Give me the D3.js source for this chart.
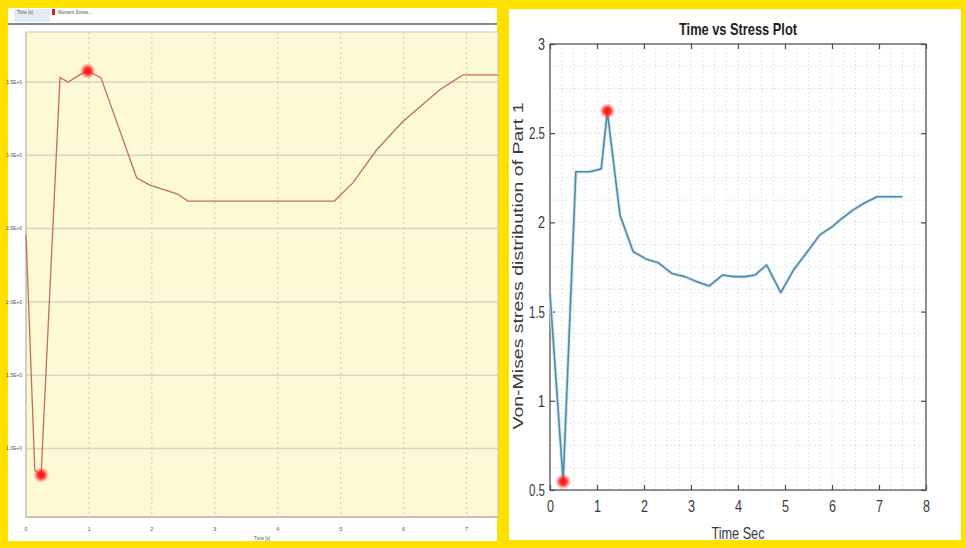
<!DOCTYPE html>
<html>
<head>
<meta charset="utf-8">
<script src="https://cdn.jsdelivr.net/npm/d3@7"></script>
<style>
  body { margin: 0; background: #ffe100; }
  svg { display: block; }
</style>
</head>
<body>
<svg id="chart" width="966" height="548"></svg>
<script>
// Left panel (Workbench style chart) data
const leftTime = [0, 0.14, 0.24, 0.54, 0.67, 0.86, 0.98, 1.19, 1.76, 1.97, 2.41, 2.57, 4.9, 5.19, 5.57, 5.98, 6.57, 6.94, 7.5];
const leftStress = [2.46, 0.85, 0.82, 3.53, 3.5, 3.55, 3.575, 3.53, 2.845, 2.797, 2.736, 2.688, 2.688, 2.81, 3.036, 3.227, 3.445, 3.548, 3.548];
const leftMarkTime = [0.24, 0.98];
const leftMarkStress = [0.82, 3.575];
const leftYTicks = [1.0, 1.5, 2.0, 2.5, 3.0, 3.5];
const leftXTicks = [0, 1, 2, 3, 4, 5, 6, 7];

// Right panel (MATLAB style chart) data
const rightTime = [0, 0.28, 0.55, 0.85, 1.09, 1.22, 1.49, 1.77, 2.06, 2.3, 2.59, 2.87, 3.12, 3.39, 3.67, 3.9, 4.15, 4.36, 4.61, 4.91, 5.18, 5.46, 5.74, 6.0, 6.2, 6.45, 6.7, 6.96, 7.5];
const rightStress = [1.6, 0.547, 2.284, 2.284, 2.3, 2.62, 2.04, 1.836, 1.793, 1.774, 1.714, 1.696, 1.668, 1.644, 1.705, 1.696, 1.696, 1.705, 1.761, 1.606, 1.733, 1.83, 1.93, 1.975, 2.02, 2.07, 2.11, 2.144, 2.144];
const rightMarkTime = [0.28, 1.22];
const rightMarkStress = [0.547, 2.625];
const rightYTicks = [0.5, 1, 1.5, 2, 2.5, 3];
const rightXTicks = [0, 1, 2, 3, 4, 5, 6, 7, 8];

const svg = d3.select("#chart");

// glow for the red markers
const defs = svg.append("defs");
const glow = defs.append("radialGradient").attr("id", "glow");
glow.append("stop").attr("offset", "0%").attr("stop-color", "#ff1010").attr("stop-opacity", 1);
glow.append("stop").attr("offset", "45%").attr("stop-color", "#ff2020").attr("stop-opacity", 0.9);
glow.append("stop").attr("offset", "100%").attr("stop-color", "#ff7070").attr("stop-opacity", 0);

// yellow frame + the two white panels
svg.append("rect").attr("width", 966).attr("height", 548).attr("fill", "#ffe100");
svg.append("rect").attr("x", 8).attr("y", 8).attr("width", 489).attr("height", 533).attr("fill", "#ffffff");
svg.append("rect").attr("x", 509).attr("y", 9).attr("width", 452).attr("height", 531).attr("fill", "#ffffff");

// ---------------- left panel ----------------
const L = { left: 26, right: 498, top: 32, bottom: 517 };
const lx = d3.scaleLinear().domain([0, 7.5]).range([L.left, L.right]);
const ly = d3.scaleLinear().domain([0.533, 3.841]).range([L.bottom, L.top]);

const left = svg.append("g").attr("class", "left-chart");

// toolbar strip
left.append("rect").attr("x", 14).attr("y", 9).attr("width", 36).attr("height", 13).attr("fill", "#e4ecf2");
left.append("text").attr("x", 17).attr("y", 14).attr("font-size", 4.5).attr("fill", "#555")
  .attr("font-family", "Liberation Sans, sans-serif").text("Time [s]");
left.append("rect").attr("x", 52).attr("y", 9).attr("width", 3).attr("height", 6).attr("fill", "#e02020");
left.append("text").attr("x", 58).attr("y", 14).attr("font-size", 4.5).attr("fill", "#555")
  .attr("font-family", "Liberation Sans, sans-serif").text("Moment Stress...");
left.append("line").attr("x1", 8).attr("x2", 497).attr("y1", 24).attr("y2", 24)
  .attr("stroke", "#8a8a8a").attr("stroke-width", 2);

// plot area
left.append("rect").attr("x", L.left).attr("y", L.top)
  .attr("width", L.right - L.left).attr("height", L.bottom - L.top)
  .attr("fill", "#fdf9d4").attr("stroke", "#c8c8c0").attr("stroke-width", 1);

left.append("g").selectAll("line").data(leftYTicks).enter().append("line")
  .attr("x1", L.left).attr("x2", L.right)
  .attr("y1", d => ly(d)).attr("y2", d => ly(d))
  .attr("stroke", "#d6d6bc").attr("stroke-width", 1.5);

left.append("g").selectAll("line").data(leftXTicks.slice(1)).enter().append("line")
  .attr("x1", d => lx(d)).attr("x2", d => lx(d))
  .attr("y1", L.top).attr("y2", L.bottom)
  .attr("stroke", "#c9c9b0").attr("stroke-width", 1).attr("stroke-dasharray", "2,3");

left.append("line").attr("x1", L.left).attr("x2", L.right).attr("y1", L.bottom).attr("y2", L.bottom)
  .attr("stroke", "#b8b8b0").attr("stroke-width", 1.5);
left.append("line").attr("x1", L.left).attr("x2", L.left).attr("y1", L.top).attr("y2", L.bottom)
  .attr("stroke", "#c8c8c0").attr("stroke-width", 1.5);

left.append("g").selectAll("text").data(leftYTicks).enter().append("text")
  .attr("x", 22).attr("y", d => ly(d)).attr("dy", "0.35em").attr("text-anchor", "end")
  .attr("font-size", 5).attr("fill", "#555").attr("font-family", "Liberation Sans, sans-serif")
  .text(d => d.toFixed(1) + "E+0");

left.append("g").selectAll("text").data(leftXTicks).enter().append("text")
  .attr("x", d => lx(d)).attr("y", 531).attr("text-anchor", "middle")
  .attr("font-size", 5.5).attr("fill", "#555").attr("font-family", "Liberation Sans, sans-serif")
  .text(d => d);

left.append("text").attr("x", 262).attr("y", 540).attr("text-anchor", "middle")
  .attr("font-size", 4.5).attr("fill", "#555").attr("font-family", "Liberation Sans, sans-serif")
  .text("Time [s]");

const leftLine = d3.line().x((d, i) => lx(leftTime[i])).y(d => ly(d));
left.append("path").datum(leftStress)
  .attr("d", leftLine).attr("fill", "none")
  .attr("stroke", "#bd6f62").attr("stroke-width", 1.3);

left.append("g").selectAll("circle").data(leftMarkTime).enter().append("circle")
  .attr("cx", d => lx(d)).attr("cy", (d, i) => ly(leftMarkStress[i]))
  .attr("r", 8).attr("fill", "url(#glow)");

// ---------------- right panel ----------------
const R = { left: 550, right: 926, top: 44, bottom: 490 };
const rx = d3.scaleLinear().domain([0, 8]).range([R.left, R.right]);
const ry = d3.scaleLinear().domain([0.5, 3]).range([R.bottom, R.top]);
const font = "'Liberation Sans', Arial, sans-serif";

const right = svg.append("g").attr("class", "right-chart");

// minor grid
const minorX = d3.range(0, 8.001, 0.25);
const minorY = d3.range(0.5, 3.001, 0.125);
right.append("g").selectAll("line").data(minorX).enter().append("line")
  .attr("x1", d => rx(d)).attr("x2", d => rx(d)).attr("y1", R.top).attr("y2", R.bottom)
  .attr("stroke", "#d4d4d4").attr("stroke-width", 0.8).attr("stroke-dasharray", "1.5,2.5");
right.append("g").selectAll("line").data(minorY).enter().append("line")
  .attr("x1", R.left).attr("x2", R.right).attr("y1", d => ry(d)).attr("y2", d => ry(d))
  .attr("stroke", "#d4d4d4").attr("stroke-width", 0.8).attr("stroke-dasharray", "1.5,2.5");

// axes box
right.append("rect").attr("x", R.left).attr("y", R.top)
  .attr("width", R.right - R.left).attr("height", R.bottom - R.top)
  .attr("fill", "none").attr("stroke", "#4a4a4a").attr("stroke-width", 1.2);

const xAxisB = d3.axisBottom(rx).tickValues(rightXTicks).tickSize(-5).tickPadding(10).tickFormat(d3.format("d"));
const xAxisT = d3.axisTop(rx).tickValues(rightXTicks).tickSize(-5).tickFormat("");
const yAxisL = d3.axisLeft(ry).tickValues(rightYTicks).tickSize(-5).tickPadding(5).tickFormat(d => d);
const yAxisR = d3.axisRight(ry).tickValues(rightYTicks).tickSize(-5).tickFormat("");

[[xAxisB, `translate(0,${R.bottom})`], [xAxisT, `translate(0,${R.top})`],
 [yAxisL, `translate(${R.left},0)`], [yAxisR, `translate(${R.right},0)`]].forEach(([ax, tr]) => {
  const g = right.append("g").attr("transform", tr).call(ax);
  g.select(".domain").remove();
  g.selectAll(".tick line").attr("stroke", "#4a4a4a").attr("stroke-width", 1.2);
  g.selectAll(".tick text").attr("fill", "#3a3a3a").attr("font-size", 17).attr("font-family", font)
    .attr("textLength", d => String(d).length === 1 ? 7 : 16).attr("lengthAdjust", "spacingAndGlyphs");
});

right.append("text").attr("x", 738).attr("y", 35).attr("text-anchor", "middle")
  .attr("font-size", 17).attr("font-weight", "bold").attr("fill", "#222").attr("font-family", font)
  .attr("textLength", 118).attr("lengthAdjust", "spacingAndGlyphs")
  .text("Time vs Stress Plot");

right.append("text").attr("x", 738).attr("y", 539).attr("text-anchor", "middle")
  .attr("font-size", 17).attr("fill", "#3a3a3a").attr("font-family", font)
  .attr("textLength", 53).attr("lengthAdjust", "spacingAndGlyphs")
  .text("Time Sec");

right.append("text").attr("transform", "translate(518,266) rotate(-90)").attr("text-anchor", "middle")
  .attr("dy", "0.35em")
  .attr("font-size", 15).attr("fill", "#3a3a3a").attr("font-family", font)
  .attr("textLength", 327).attr("lengthAdjust", "spacingAndGlyphs")
  .text("Von-Mises stress distribution of Part 1");

const rightLine = d3.line().x((d, i) => rx(rightTime[i])).y(d => ry(d));
right.append("path").datum(rightStress)
  .attr("d", rightLine).attr("fill", "none")
  .attr("stroke", "#cfe6f3").attr("stroke-width", 3.5).attr("stroke-linejoin", "round");
right.append("path").datum(rightStress)
  .attr("d", rightLine).attr("fill", "none")
  .attr("stroke", "#4f8aa6").attr("stroke-width", 1.6).attr("stroke-linejoin", "round");

right.append("g").selectAll("circle").data(rightMarkTime).enter().append("circle")
  .attr("cx", d => rx(d)).attr("cy", (d, i) => ry(rightMarkStress[i]))
  .attr("r", 8).attr("fill", "url(#glow)");
</script>
</body>
</html>
